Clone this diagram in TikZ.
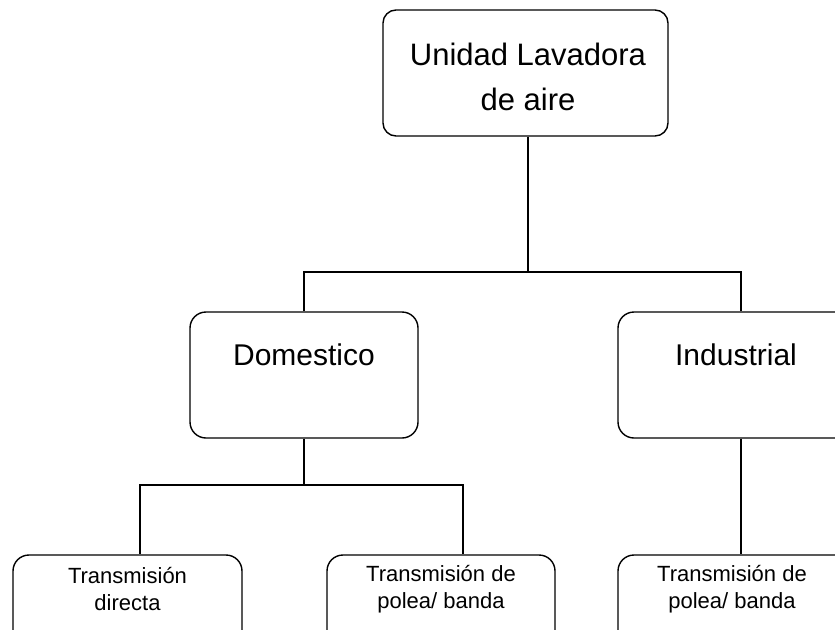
\documentclass[tikz,border=0pt]{standalone}
\usepackage{fontspec}
\setmainfont{Liberation Sans}
\usetikzlibrary{positioning}

\begin{document}
\begin{tikzpicture}[x=1pt,y=-1pt]
    \tikzset{caja/.style={draw,line width=1.4pt,rounded corners=16pt,inner sep=0pt}}
    \tikzset{linea/.style={line width=1.4pt}}
  %\draw[step=50,gray,very thin] (0,0) grid (835,629);
  \useasboundingbox (0,0) rectangle (835,629);

\node[caja,rounded corners=13pt,minimum width=285pt,minimum height=126pt] (U) at (525.5,73) {};
\node[align=center,font=\fontsize{31}{45}\selectfont] (UT) at (528,77) {Unidad Lavadora\\de aire};

\node[caja,minimum width=228pt,minimum height=126pt] (D) at (304,375) {};
\node[font=\fontsize{30}{36}\selectfont] (DT) at (304,355) {Domestico};

\node[caja,minimum width=246pt,minimum height=126pt] (I) at (741,375) {};
\node[font=\fontsize{30}{36}\selectfont] (IT) at (736,355) {Industrial};

\node[caja,minimum width=229pt,minimum height=92pt] (B1) at (127.5,601) {};
\node[align=center,font=\fontsize{22}{27}\selectfont] (B1T) at (127.5,589) {Transmisión\\directa};

\node[caja,minimum width=228pt,minimum height=92pt] (B2) at (441,601) {};
\node[align=center,font=\fontsize{22}{27}\selectfont] (B2T) at (441,589) {Transmisión de\\polea/ banda};

\node[caja,minimum width=246pt,minimum height=92pt] (B3) at (741,601) {};
\node[align=center,font=\fontsize{22}{27}\selectfont] (B3T) at (732,589) {Transmisión de\\polea/ banda};

\coordinate (J1) at (528,272);
\coordinate (J2) at (304,485);

\draw [linea] (U.south -| J1) -- (J1);
\draw [linea] (D.north) |- (J1) -| (I.north);

\draw [linea] (D.south) -- (J2);
\draw [linea] (J2) -| ([xshift=12.5pt]B1.north);
\draw [linea] (J2) -| ([xshift=22pt]B2.north);

\draw [linea] (I.south) -- (B3.north);

\end{tikzpicture}
\end{document}
